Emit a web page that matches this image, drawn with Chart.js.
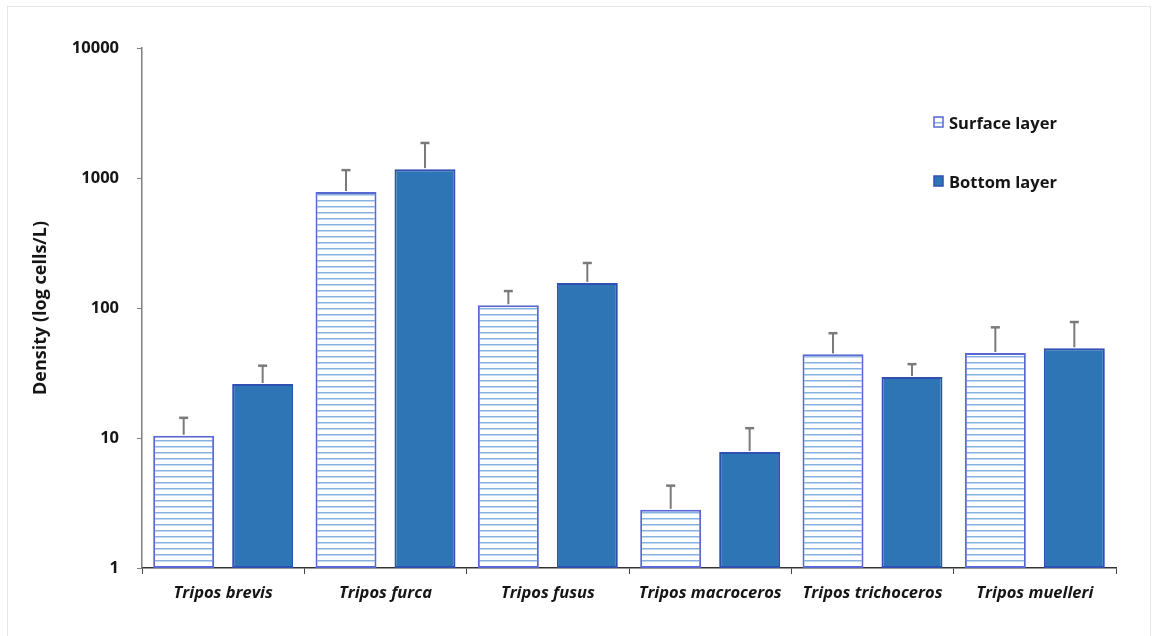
<!DOCTYPE html>
<html>
<head>
<meta charset="utf-8">
<script src="https://cdn.jsdelivr.net/npm/chart.js@4/dist/chart.umd.min.js"></script>
<style>
  html, body { margin: 0; padding: 0; background: #fff; }
  #wrap { position: relative; width: 1158px; height: 636px; overflow: hidden; }
  #frame { position: absolute; left: 7px; top: 6px; width: 1144px; height: 660px;
           border: 1px solid #e6e6e6; box-sizing: border-box; }
  #c { position: absolute; left: 0; top: 0; }
</style>
</head>
<body>
<div id="wrap">
  <div id="frame"></div>
  <canvas id="c" width="1158" height="636"></canvas>
</div>
<script>
// Mean densities (cells/L) and the top of each error bar, per species
const categories = ['Tripos brevis', 'Tripos furca', 'Tripos fusus', 'Tripos macroceros', 'Tripos trichoceros', 'Tripos muelleri'];
const surfaceMean  = [10.4, 780, 105, 2.8, 44, 45];
const surfaceUpper = [14.3, 1150, 135, 4.3, 64, 71];
const bottomMean   = [26, 1170, 156, 7.8, 29.5, 49];
const bottomUpper  = [36, 1860, 222, 11.9, 37, 78];
const yTicks = [1, 10, 100, 1000, 10000];

const FONT = '"Open Sans", Lato, "DejaVu Sans", sans-serif';
const SURFACE_EDGE = '#5a68d4';
const BOTTOM_FILL = '#2e75b6';
const BOTTOM_EDGE = '#2f4fb3';

// Horizontal stripe fill for the surface-layer bars
function stripePattern(ctx) {
  const p = document.createElement('canvas');
  p.width = 8; p.height = 6;
  const g = p.getContext('2d');
  g.fillStyle = '#ffffff';
  g.fillRect(0, 0, 8, 6);
  g.fillStyle = '#86b1e2';
  g.fillRect(0, 2, 8, 1);
  g.fillStyle = '#c2d8f1';
  g.fillRect(0, 3, 8, 1);
  return ctx.createPattern(p, 'repeat');
}

const ctx = document.getElementById('c').getContext('2d');
const stripes = stripePattern(ctx);

// One-sided (upper) error bars
const errorBars = {
  id: 'errorBars',
  afterDatasetsDraw(chart) {
    const c = chart.ctx;
    const y = chart.scales.y;
    c.save();
    c.strokeStyle = '#7a7a7a';
    chart.data.datasets.forEach((ds, di) => {
      const meta = chart.getDatasetMeta(di);
      meta.data.forEach((bar, i) => {
        const top = y.getPixelForValue(ds.upper[i]);
        const base = y.getPixelForValue(ds.data[i]);
        c.lineWidth = 2;
        c.beginPath();
        c.moveTo(bar.x, base - 1);
        c.lineTo(bar.x, top);
        c.stroke();
        c.lineWidth = 2.5;
        c.beginPath();
        c.moveTo(bar.x - 4.5, top);
        c.lineTo(bar.x + 4.5, top);
        c.stroke();
      });
    });
    c.restore();
  }
};

// Legend drawn inside the plot area, top right
const insideLegend = {
  id: 'insideLegend',
  afterDraw(chart) {
    const c = chart.ctx;
    const rows = [124, 183];
    c.save();
    c.font = 'bold 16.5px ' + FONT;
    c.textBaseline = 'middle';
    chart.data.datasets.forEach((ds, i) => {
      const yc = rows[i];
      c.fillStyle = ds.legendFill;
      c.fillRect(934, yc - 7, 9, 10);
      c.strokeStyle = ds.borderColor;
      c.lineWidth = 1.5;
      c.strokeRect(934, yc - 7, 9, 10);
      c.fillStyle = '#151515';
      c.fillText(ds.label, 949, yc);
    });
    c.restore();
  }
};

new Chart(ctx, {
  type: 'bar',
  data: {
    labels: categories,
    datasets: [
      {
        label: 'Surface layer',
        data: surfaceMean,
        upper: surfaceUpper,
        backgroundColor: stripes,
        legendFill: stripes,
        borderColor: SURFACE_EDGE,
        borderWidth: 2,
        borderSkipped: false,
        categoryPercentage: 0.973,
        barPercentage: 0.772
      },
      {
        label: 'Bottom layer',
        data: bottomMean,
        upper: bottomUpper,
        backgroundColor: BOTTOM_FILL,
        legendFill: BOTTOM_FILL,
        borderColor: BOTTOM_EDGE,
        borderWidth: 2,
        borderSkipped: false,
        categoryPercentage: 0.973,
        barPercentage: 0.772
      }
    ]
  },
  options: {
    responsive: false,
    animation: false,
    devicePixelRatio: 1,
    layout: { padding: { left: 0, right: 42, top: 48, bottom: 0 } },
    plugins: {
      legend: { display: false },
      tooltip: { enabled: false }
    },
    scales: {
      x: {
        afterFit(s) { s.height = 68; },
        ticks: {
          font: { family: FONT, size: 16.5, style: 'italic', weight: 'bold' },
          color: '#151515',
          padding: 9
        },
        grid: { drawOnChartArea: false, drawTicks: true, tickLength: 6, color: '#444', offset: true },
        border: { display: true, color: '#333', width: 1.5 }
      },
      y: {
        type: 'logarithmic',
        min: 1,
        max: 10000,
        afterBuildTicks(s) { s.ticks = yTicks.map(v => ({ value: v })); },
        afterFit(s) { s.width = 142; },
        ticks: {
          callback: v => String(v),
          font: { family: FONT, size: 16.5, weight: 'bold' },
          color: '#151515',
          padding: 18
        },
        grid: { drawOnChartArea: false, drawTicks: true, tickLength: 5, color: '#808080' },
        border: { display: true, color: '#808080', width: 1.5 },
        title: {
          display: true,
          text: 'Density (log cells/L)',
          font: { family: FONT, size: 18, weight: 'bold' },
          color: '#151515',
          padding: { top: 30, bottom: 0 }
        }
      }
    }
  },
  plugins: [errorBars, insideLegend]
});
</script>
</body>
</html>
